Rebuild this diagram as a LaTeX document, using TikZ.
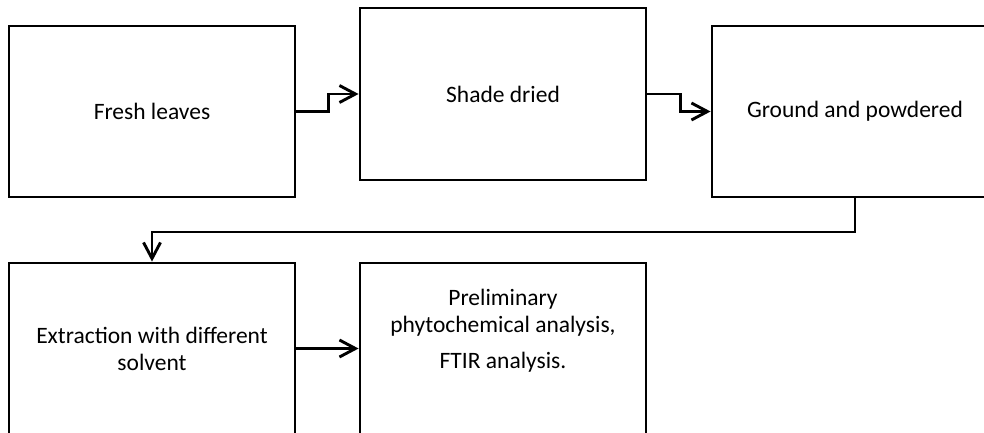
\documentclass[tikz,border=0pt]{standalone}
\usepackage{fontspec}
\setmainfont{Carlito}
\usetikzlibrary{arrows.meta}
\begin{document}
\begin{tikzpicture}[x=1pt,y=-1pt,
  stepbox/.style={draw=black, line width=2.9pt, minimum width=286pt,
    minimum height=171pt, inner sep=0pt, align=center,
    font=\fontsize{23.5}{27}\selectfont},
  txt/.style={align=center, inner sep=0pt, font=\fontsize{23.5}{27}\selectfont},
  conn/.style={line width=2.9pt, -{Straight Barb[length=16pt,width=17pt]}}]
\useasboundingbox (0,0) rectangle (984,432);
\clip (0,0) rectangle (984,432);

% process boxes
\node[stepbox] (fresh)   at (152,111.5) {Fresh leaves};
\node[stepbox, minimum height=172pt] (dried) at (503,94) {Shade dried};
\node[stepbox] (ground)  at (855,111.5) {Ground and powdered};
\node[stepbox] (extract) at (152,348.5) {Extraction with different\\solvent};
\node[stepbox] (prelim)  at (503,348.5) {};
\node[txt] (prelimtext) at (503,331)
  {Preliminary\\phytochemical analysis,\\[9pt]FTIR analysis.};

% connectors
\draw[conn] (fresh.east) -- ++(32,0) |- (dried.west);
\draw[conn] (dried.east) -- ++(33,0) |- (ground.west);
\draw[conn] (ground.south) -- ++(0,33.5) -| (extract.north);
\draw[conn] (extract.east) -- (prelim.west);
\end{tikzpicture}
\end{document}
